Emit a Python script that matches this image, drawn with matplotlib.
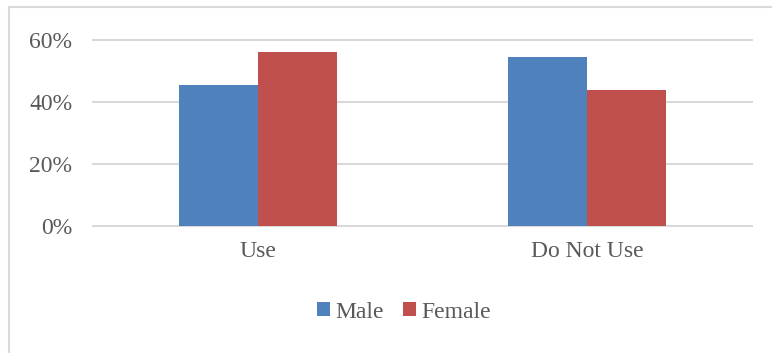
import numpy as np
import matplotlib.pyplot as plt
from matplotlib.lines import Line2D
from matplotlib.ticker import PercentFormatter

plt.rcParams['font.family'] = ['Liberation Serif', 'DejaVu Serif']

categories = ["Use", "Do Not Use"]
male = [0.456, 0.544]
female = [0.560, 0.440]
series_names = ["Male", "Female"]
yticks = [0.0, 0.2, 0.4, 0.6]

W, H = 772, 353
text_color = "#595959"
grid_color = "#d9d9d9"
fsize = 17

fig = plt.figure(figsize=(W / 100, H / 100), dpi=100)
ax = fig.add_axes([93 / W, 1 - 226 / H, (752 - 93) / W, (226 - 40) / H])

x = np.arange(len(categories))
width = 0.24
ax.bar(x - width / 2, male, width, color="#4F81BD", label=series_names[0])
ax.bar(x + width / 2, female, width, color="#C0504D", label=series_names[1])

ax.set_xlim(-0.5, len(categories) - 0.5)
ax.set_ylim(0, 0.6)
ax.set_yticks(yticks)
ax.yaxis.set_major_formatter(PercentFormatter(1.0, decimals=0))
ax.set_xticks(x)
ax.set_xticklabels(categories)
ax.tick_params(axis="y", length=0, pad=15, labelsize=fsize, labelcolor=text_color)
ax.tick_params(axis="x", length=0, pad=11, labelsize=fsize, labelcolor=text_color)

for y in yticks:
    ax.axhline(y, color=grid_color, lw=1.5, zorder=0, clip_on=False)
for s in ax.spines.values():
    s.set_visible(False)

# chart area outline (top and left edges only)
fig.add_artist(Line2D([9 / W, 1], [1 - 6.5 / H, 1 - 6.5 / H],
                      transform=fig.transFigure, color=grid_color, lw=1.5))
fig.add_artist(Line2D([9 / W, 9 / W], [0, 1 - 6.5 / H],
                      transform=fig.transFigure, color=grid_color, lw=1.5))

fig.legend(loc="center", bbox_to_anchor=(404 / W, 1 - 312 / H), ncol=2,
           frameon=False, fontsize=fsize, labelcolor=text_color,
           handlelength=0.55, handleheight=0.55, handletextpad=0.25,
           columnspacing=0.8)

fig.savefig("out.png", dpi=100)
